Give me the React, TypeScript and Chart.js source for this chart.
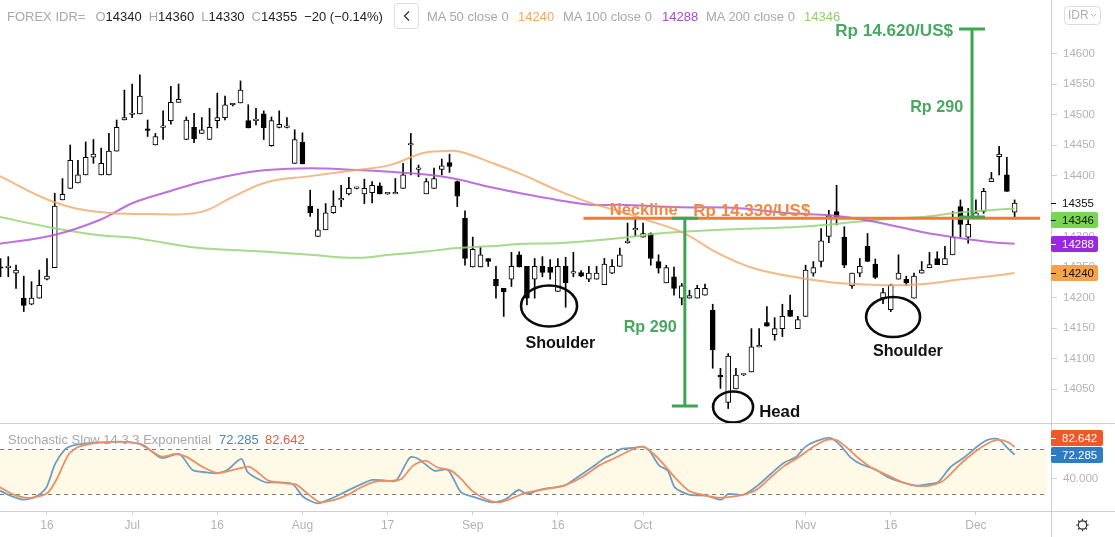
import React, { useEffect, useRef } from "react";
import { Chart, registerables } from "chart.js";

Chart.register(...registerables);

// ---------------- data ----------------
// trading-day index: 0 = 16 Jun, first candle is index -6 (8 Jun)
const firstDayIndex = -6;

const opens = [
  14250, 14249, 14240, 14199, 14189, 14199, 14230, 14249, 14360, 14379,
  14388, 14401, 14430, 14401, 14401, 14440, 14491, 14500, 14501, 14476,
  14450, 14479, 14490, 14520, 14459, 14479, 14469, 14459, 14490, 14495,
  14516, 14519, 14490, 14490, 14501, 14449, 14479, 14479, 14420, 14455,
  14350, 14300, 14311, 14339, 14360, 14370, 14379, 14370, 14372, 14383,
  14370, 14370, 14379, 14450, 14410, 14370, 14379, 14410, 14421, 14390,
  14330, 14250, 14250, 14264, 14230, 14215, 14230, 14270, 14251, 14230,
  14251, 14250, 14210, 14251, 14240, 14241, 14230, 14230, 14221, 14240,
  14251, 14290, 14311, 14299, 14305, 14259, 14224, 14234, 14199, 14199,
  14199, 14204, 14179, 14071, 14028, 14050, 14073, 14078, 14119, 14159,
  14139, 14149, 14179, 14149, 14169, 14240, 14259, 14300, 14341, 14299,
  14219, 14240, 14284, 14255, 14199, 14180, 14230, 14230, 14199, 14240,
  14249, 14264, 14254, 14270, 14349, 14299, 14331, 14341, 14390, 14431,
  14401, 14340,
];
const highs = [
  14264, 14267, 14253, 14235, 14226, 14245, 14264, 14371, 14395, 14450,
  14425, 14455, 14459, 14445, 14469, 14491, 14540, 14550, 14565, 14491,
  14469, 14506, 14546, 14550, 14496, 14502, 14495, 14510, 14535, 14530,
  14518, 14555, 14516, 14510, 14506, 14496, 14506, 14495, 14475, 14470,
  14376, 14345, 14354, 14375, 14384, 14397, 14381, 14394, 14390, 14388,
  14372, 14395, 14420, 14469, 14417, 14395, 14412, 14427, 14435, 14391,
  14342, 14299, 14283, 14264, 14251, 14215, 14274, 14275, 14251, 14264,
  14267, 14262, 14264, 14266, 14274, 14244, 14251, 14251, 14264, 14262,
  14281, 14322, 14330, 14322, 14306, 14270, 14253, 14250, 14223, 14212,
  14220, 14222, 14189, 14084, 14108, 14084, 14074, 14149, 14149, 14185,
  14167, 14189, 14204, 14169, 14253, 14259, 14313, 14343, 14384, 14316,
  14240, 14264, 14305, 14263, 14215, 14222, 14270, 14235, 14240, 14259,
  14274, 14275, 14284, 14341, 14360, 14346, 14360, 14379, 14405, 14448,
  14430, 14360,
];
const lows = [
  14234, 14234, 14215, 14177, 14188, 14199, 14229, 14249, 14360, 14379,
  14388, 14401, 14420, 14401, 14401, 14440, 14491, 14495, 14501, 14464,
  14450, 14459, 14484, 14520, 14459, 14454, 14469, 14459, 14478, 14491,
  14514, 14519, 14478, 14483, 14459, 14448, 14478, 14478, 14420, 14419,
  14333, 14300, 14311, 14338, 14349, 14368, 14378, 14354, 14355, 14370,
  14369, 14370, 14379, 14401, 14398, 14370, 14379, 14401, 14405, 14349,
  14253, 14250, 14250, 14251, 14199, 14169, 14218, 14250, 14188, 14199,
  14234, 14230, 14210, 14184, 14234, 14234, 14226, 14230, 14221, 14239,
  14251, 14289, 14300, 14299, 14253, 14240, 14224, 14204, 14188, 14199,
  14199, 14204, 14084, 14051, 14018, 14050, 14072, 14078, 14119, 14153,
  14130, 14136, 14169, 14149, 14169, 14235, 14250, 14290, 14319, 14249,
  14215, 14234, 14259, 14231, 14190, 14177, 14230, 14220, 14199, 14240,
  14249, 14254, 14254, 14270, 14299, 14289, 14330, 14338, 14390, 14401,
  14374, 14330,
];
const closes = [
  14248, 14250, 14245, 14187, 14199, 14220, 14235, 14350, 14369, 14425,
  14401, 14430, 14435, 14420, 14440, 14479, 14495, 14501, 14530, 14474,
  14464, 14480, 14520, 14525, 14491, 14460, 14475, 14479, 14495, 14516,
  14516, 14540, 14478, 14490, 14478, 14490, 14484, 14479, 14459, 14419,
  14339, 14311, 14339, 14350, 14360, 14379, 14379, 14379, 14384, 14370,
  14370, 14370, 14401, 14450, 14410, 14390, 14395, 14416, 14415, 14366,
  14264, 14279, 14270, 14259, 14219, 14209, 14251, 14250, 14199, 14251,
  14241, 14241, 14251, 14224, 14240, 14235, 14240, 14240, 14255, 14251,
  14270, 14290, 14311, 14305, 14264, 14248, 14249, 14215, 14219, 14203,
  14215, 14215, 14114, 14070, 14104, 14073, 14073, 14119, 14119, 14153,
  14149, 14169, 14169, 14164, 14245, 14249, 14293, 14334, 14330, 14253,
  14240, 14251, 14259, 14233, 14208, 14220, 14240, 14224, 14235, 14245,
  14254, 14254, 14264, 14299, 14320, 14320, 14339, 14374, 14395, 14435,
  14374, 14355,
];

// moving averages (day index, value)
const ma50Idx = [-6.1, 0.8, 6.8, 13.3, 19.8, 24, 28.4, 34, 40, 44.3, 48.6, 51.4, 53.4, 57.2, 61.5, 65.9, 70.2, 74, 77.5, 82.2, 86.6, 90.8, 95.1, 101.2, 104.7, 108.9, 113.2, 117.6, 121.8, 125];
const ma50Val = [14399, 14357, 14340, 14337, 14340, 14365, 14389, 14399, 14409, 14417, 14437, 14440, 14439, 14422, 14401, 14376, 14355, 14341, 14327, 14306, 14273, 14250, 14237, 14225, 14222, 14220, 14222, 14229, 14235, 14240];
const ma100Idx = [-6.1, 0.8, 6.8, 11.1, 15.5, 19.8, 24, 28.4, 34, 40, 44.3, 48.6, 53, 57.2, 61.5, 65.9, 70.2, 74, 81.8, 88.6, 96, 101.2, 104.7, 108.9, 113.2, 117.6, 121.8, 125];
const ma100Val = [14288, 14302, 14327, 14355, 14373, 14389, 14401, 14409, 14412, 14409, 14406, 14402, 14394, 14381, 14370, 14360, 14352, 14352, 14348, 14347, 14338, 14335, 14329, 14319, 14307, 14298, 14291, 14288];
const ma200Idx = [-6.1, 0.8, 6.8, 11.1, 15.5, 19.8, 24, 28.4, 34, 40, 44.3, 48.6, 53, 57.2, 61.5, 65.9, 70.2, 74.4, 80.1, 88.6, 97.3, 104.7, 108.9, 113.2, 117.6, 121.8, 125];
const ma200Val = [14332, 14314, 14302, 14298, 14289, 14281, 14278, 14275, 14270, 14265, 14270, 14275, 14281, 14284, 14288, 14289, 14293, 14298, 14306, 14312, 14316, 14324, 14329, 14332, 14339, 14343, 14346];

// stochastic slow (day index, value)
const stochKIdx = [-6.07, -4.74, -2.96, -1.18, -0.07, 1.05, 2.38, 3.27, 5.05, 7.27, 9.5, 11.7, 12.6, 14.8, 17.1, 18.8, 20.6, 21.95, 23.3, 25.1, 25.96, 28.2, 29.5, 31.7, 33.1, 34.9, 36.6, 38.4, 40.2, 42, 43.8, 45.1, 46.9, 48, 50, 51.8, 53.5, 55.3, 57.5, 59.3, 60.9, 62, 63.3, 64.2, 66.8, 68.2, 70.4, 72.2, 73.1, 74.2, 75.7, 76.9, 77.8, 79.1, 80.2, 81.1, 82.9, 85.1, 87.1, 88, 90, 91.8, 93.5, 95.3, 96.7, 98, 99.3, 101.1, 102.4, 103.8, 105.1, 106.9, 108.7, 110.5, 112.2, 114, 115.1, 116.7, 118.5, 120.3, 121.6, 122.9, 124, 125];
const stochKVal = [24.4, 17.8, 12.4, 17.8, 28.9, 60, 80, 84.4, 87.6, 88.9, 89.8, 87.6, 84.4, 68, 73.3, 52, 48.9, 47.6, 52, 66.7, 48.9, 35.6, 35.6, 33.3, 16.4, 7.6, 13.3, 22.2, 31.1, 38.7, 37.8, 37.8, 68.9, 66.7, 51.1, 52, 22.2, 15.6, 8.9, 13.3, 25.3, 20, 24.4, 26.7, 31.1, 40, 55.6, 68.9, 73.3, 80, 81.3, 83.1, 77.8, 57.8, 51.1, 28.9, 19.1, 17.8, 12.4, 20, 19.1, 31.1, 46.7, 62.2, 68.9, 83.1, 90.2, 94.7, 85.8, 68.9, 60, 53.3, 42.2, 35.6, 31.1, 33.3, 35.6, 55.6, 68.9, 84.4, 92.4, 93.3, 82.2, 72.285];
const stochDIdx = [-6.07, -4.25, -2.5, -0.7, 0.15, 1.27, 2.83, 4.16, 7.27, 11.7, 13.06, 14.8, 16.6, 17.96, 20.2, 21.95, 23.7, 25.96, 26.85, 28.6, 30.85, 32.2, 33.97, 35.3, 37.1, 38.9, 40.6, 42.4, 44.7, 45.8, 47.3, 48.9, 50.4, 52.2, 53.5, 54.9, 56.7, 58.4, 60.2, 61.6, 64.6, 66.8, 69.1, 71.3, 73.1, 74.4, 75.7, 77.1, 78.4, 79.8, 81.1, 82.9, 84.6, 86.4, 87.8, 90, 91.8, 93.5, 95.3, 97.1, 98.9, 100.7, 102, 103.3, 104.7, 106.4, 108.7, 110.5, 112.2, 114, 115.8, 118, 119.8, 121.6, 122.9, 124.2, 125];
const stochDVal = [28.9, 19.1, 14.7, 17.8, 22.2, 40, 73.3, 83.1, 88.9, 87.6, 80, 69.8, 73.3, 69.8, 55.6, 48, 51.1, 56.4, 52, 37.8, 34.2, 32.4, 17.8, 8.9, 12, 19.1, 28.9, 36.4, 37.8, 40, 57.8, 64.4, 55.6, 51.1, 40, 24.4, 13.3, 8.9, 14.7, 20.9, 26.7, 31.1, 42.2, 57.8, 66.7, 73.3, 80, 83.1, 73.3, 57.8, 42.2, 24.4, 19.1, 15.6, 15.6, 19.1, 26.7, 42.2, 57.8, 68.9, 82.2, 92, 92, 82.2, 68.9, 55.6, 44.4, 35.6, 31.1, 31.1, 37.8, 60, 75.6, 87.6, 92, 88.9, 82.642];

// axes
const timeTickIdx = [0, 11, 22, 33, 44, 55, 66, 77, 98, 109, 120];
const timeTickLabels = ["16", "Jul", "16", "Aug", "17", "Sep", "16", "Oct", "Nov", "16", "Dec"];
const priceTickValues = [14050, 14100, 14150, 14200, 14250, 14300, 14400, 14450, 14500, 14550, 14600];
const stochTickValues = [40];

// legend values
const ma50Last = 14240;
const ma100Last = 14288;
const ma200Last = 14346;
const stochKLast = 72.285;
const stochDLast = 82.642;
const changeText = "\u221220 (\u22120.14%)";

// annotation values
const necklinePrice = 14330;
const necklineFromIdx = 69.3;
const necklineToIdx = 128.3;
const leftMove = { idx: 82.4, from: 14330, to: 14022 };
const rightMove = { idx: 119.5, from: 14332, to: 14640 };

// ---------------- styling / layout ----------------
const FONT = '"Liberation Sans", Arial, Helvetica, sans-serif';
const W = 1115;
const MAIN_H = 423;
const STOCH_H = 114;
const STOCH_AREA_BOTTOM = 88;
const AXIS_W = 64;
const X_MIN = -6.07;
const X_MAX = 129.7;
const Y_MIN = 13994.3;
const Y_MAX = 14687.7;
const S_MIN = -2.7;
const S_MAX = 113.3;

const GRAY = "#a8a8a8";
const AXIS_TEXT = "#b3b3b3";
const LINE_GRAY = "#cfcfcf";
const DARK = "#222";
const MA50_COLOR = "rgba(243,168,104,0.8)";
const MA100_COLOR = "rgba(176,88,214,0.85)";
const MA200_COLOR = "rgba(150,212,120,0.85)";
const NECK_COLOR = "#ed7d31";
const NECK_TEXT = "#ef8a45";
const BR_GREEN = "#3da653";
const TXT_GREEN = "#48a862";
const STOCH_K = "#6f9cc0";
const STOCH_D = "#ec9062";

const candleIdx = opens.map((_, i) => i + firstDayIndex);
const last = opens.length - 1;

function roundRect(ctx: CanvasRenderingContext2D, x: number, y: number, w: number, h: number, r: number) {
  ctx.beginPath();
  ctx.moveTo(x + r, y);
  ctx.lineTo(x + w - r, y);
  ctx.quadraticCurveTo(x + w, y, x + w, y + r);
  ctx.lineTo(x + w, y + h - r);
  ctx.quadraticCurveTo(x + w, y + h, x + w - r, y + h);
  ctx.lineTo(x + r, y + h);
  ctx.quadraticCurveTo(x, y + h, x, y + h - r);
  ctx.lineTo(x, y + r);
  ctx.quadraticCurveTo(x, y, x + r, y);
  ctx.closePath();
}

function fitText(ctx: CanvasRenderingContext2D, text: string, x: number, y: number, width: number, color: string, align: CanvasTextAlign) {
  ctx.font = `bold 20px ${FONT}`;
  const w = ctx.measureText(text).width;
  const size = (20 * width) / w;
  ctx.font = `bold ${size}px ${FONT}`;
  ctx.fillStyle = color;
  ctx.textAlign = align;
  ctx.textBaseline = "middle";
  ctx.fillText(text, x, y);
}

function badge(ctx: CanvasRenderingContext2D, cy: number, text: string, bg: string, fg: string, w: number) {
  const x0 = W - AXIS_W;
  ctx.fillStyle = bg;
  roundRect(ctx, x0, Math.round(cy) - 8, w, 16, 2);
  ctx.fill();
  ctx.strokeStyle = fg;
  ctx.lineWidth = 1;
  ctx.beginPath();
  ctx.moveTo(x0, Math.round(cy) + 0.5);
  ctx.lineTo(x0 + 5, Math.round(cy) + 0.5);
  ctx.stroke();
  ctx.fillStyle = fg;
  ctx.font = `11.5px ${FONT}`;
  ctx.textAlign = "left";
  ctx.textBaseline = "middle";
  ctx.fillText(text, x0 + 11, Math.round(cy) + 0.5);
}

const annotationTexts = [
  { text: "Rp 14.620/US$", idx: 117.05, price: 14637, width: 118, color: TXT_GREEN, align: "right" as CanvasTextAlign },
  { text: "Rp 290", idx: 118.35, price: 14511, width: 53, color: TXT_GREEN, align: "right" as CanvasTextAlign },
  { text: "Neckline", idx: 72.7, price: 14342, width: 68, color: NECK_TEXT, align: "left" as CanvasTextAlign },
  { text: "Rp 14.330/US$", idx: 83.5, price: 14342, width: 117, color: NECK_TEXT, align: "left" as CanvasTextAlign },
  { text: "Rp 290", idx: 74.5, price: 14150, width: 53, color: TXT_GREEN, align: "left" as CanvasTextAlign },
  { text: "Shoulder", idx: 61.8, price: 14124, width: 70, color: "#111", align: "left" as CanvasTextAlign },
  { text: "Head", idx: 92, price: 14012, width: 41, color: "#111", align: "left" as CanvasTextAlign },
  { text: "Shoulder", idx: 106.7, price: 14112, width: 70, color: "#111", align: "left" as CanvasTextAlign },
];
const ellipses = [
  { idx: 64.86, price: 14186, rx: 28, ry: 20.5 },
  { idx: 88.63, price: 14020.5, rx: 20, ry: 15.5 },
  { idx: 109.3, price: 14168, rx: 27, ry: 20 },
];

const mainDecor = {
  id: "mainDecor",
  afterDatasetsDraw(chart: any) {
    const ctx: CanvasRenderingContext2D = chart.ctx;
    const xs = chart.scales.x;
    const ys = chart.scales.y;
    const px = (v: number) => xs.getPixelForValue(v);
    const py = (v: number) => ys.getPixelForValue(v);
    ctx.save();
    ctx.lineCap = "butt";
    ctx.strokeStyle = NECK_COLOR;
    ctx.lineWidth = 3;
    ctx.beginPath();
    ctx.moveTo(px(necklineFromIdx), py(necklinePrice));
    ctx.lineTo(px(necklineToIdx), py(necklinePrice));
    ctx.stroke();
    ctx.strokeStyle = BR_GREEN;
    for (const b of [leftMove, rightMove]) {
      const bx = px(b.idx);
      const y1 = py(b.from);
      const y2 = py(b.to);
      ctx.beginPath();
      ctx.moveTo(bx, y1);
      ctx.lineTo(bx, y2);
      ctx.moveTo(bx - 13, y1);
      ctx.lineTo(bx + 13, y1);
      ctx.moveTo(bx - 13, y2);
      ctx.lineTo(bx + 13, y2);
      ctx.stroke();
    }
    ctx.strokeStyle = "#0a0a0a";
    ctx.lineWidth = 2.6;
    for (const e of ellipses) {
      ctx.beginPath();
      ctx.ellipse(px(e.idx), py(e.price), e.rx, e.ry, 0, 0, Math.PI * 2);
      ctx.stroke();
    }
    for (const t of annotationTexts) {
      fitText(ctx, t.text, px(t.idx), py(t.price), t.width, t.color, t.align);
    }
    ctx.restore();
  },
  afterDraw(chart: any) {
    const ctx: CanvasRenderingContext2D = chart.ctx;
    const ys = chart.scales.y;
    const py = (v: number) => ys.getPixelForValue(v);
    const x0 = W - AXIS_W;
    ctx.save();
    ctx.strokeStyle = LINE_GRAY;
    ctx.lineWidth = 1;
    ctx.beginPath();
    ctx.moveTo(x0 + 0.5, 0);
    ctx.lineTo(x0 + 0.5, MAIN_H);
    ctx.stroke();
    const yc = Math.round(py(closes[last]));
    ctx.strokeStyle = "#111";
    ctx.beginPath();
    ctx.moveTo(x0, yc + 0.5);
    ctx.lineTo(x0 + 5, yc + 0.5);
    ctx.stroke();
    ctx.fillStyle = "#111";
    ctx.font = `11.5px ${FONT}`;
    ctx.textAlign = "left";
    ctx.textBaseline = "middle";
    ctx.fillText(String(closes[last]), x0 + 11, yc + 0.5);
    const yMa200 = Math.max(py(ma200Last), yc + 17);
    badge(ctx, yMa200, String(ma200Last), "#78d650", "#111", 47);
    badge(ctx, py(ma100Last), String(ma100Last), "#9d27e0", "#fff", 47);
    badge(ctx, py(ma50Last), String(ma50Last), "#f6a24a", "#111", 47);
    ctx.strokeStyle = "#dcdcdc";
    roundRect(ctx, 1064.5, 6.5, 36, 18, 4);
    ctx.stroke();
    ctx.fillStyle = "#b0b0b0";
    ctx.font = `12px ${FONT}`;
    ctx.textAlign = "left";
    ctx.fillText("IDR", 1068, 16);
    ctx.strokeStyle = "#b0b0b0";
    ctx.beginPath();
    ctx.moveTo(1091, 14);
    ctx.lineTo(1093.5, 16.5);
    ctx.lineTo(1096, 14);
    ctx.stroke();
    ctx.restore();
  },
};

const stochDecor = {
  id: "stochDecor",
  beforeDatasetsDraw(chart: any) {
    const ctx: CanvasRenderingContext2D = chart.ctx;
    const { left, right } = chart.chartArea;
    const ys = chart.scales.y;
    const y80 = Math.round(ys.getPixelForValue(80)) + 0.5;
    const y20 = Math.round(ys.getPixelForValue(20)) + 0.5;
    ctx.save();
    ctx.fillStyle = "#fffae8";
    ctx.fillRect(left, y80, right - left - 4, y20 - y80);
    ctx.strokeStyle = "#7a7a7a";
    ctx.lineWidth = 1;
    ctx.setLineDash([4, 4]);
    ctx.beginPath();
    ctx.moveTo(left, y80);
    ctx.lineTo(right - 4, y80);
    ctx.moveTo(left, y20);
    ctx.lineTo(right - 4, y20);
    ctx.stroke();
    ctx.restore();
  },
  afterDraw(chart: any) {
    const ctx: CanvasRenderingContext2D = chart.ctx;
    const ys = chart.scales.y;
    const x0 = W - AXIS_W;
    const bottom = chart.chartArea.bottom;
    ctx.save();
    ctx.strokeStyle = LINE_GRAY;
    ctx.lineWidth = 1;
    ctx.beginPath();
    ctx.moveTo(0, 0.5);
    ctx.lineTo(W, 0.5);
    ctx.moveTo(0, bottom + 0.5);
    ctx.lineTo(W, bottom + 0.5);
    ctx.moveTo(x0 + 0.5, 0);
    ctx.lineTo(x0 + 0.5, STOCH_H);
    ctx.stroke();
    const yK = Math.round(ys.getPixelForValue(stochKLast));
    const yD = Math.min(Math.round(ys.getPixelForValue(stochDLast)), yK - 17);
    badge(ctx, yK, stochKLast.toFixed(3), "#2f7cc6", "#fff", 52);
    badge(ctx, yD, stochDLast.toFixed(3), "#f0582a", "#fff", 52);
    const gx = 1082.5;
    const gy = bottom + 14;
    ctx.strokeStyle = "#333";
    ctx.lineWidth = 1.2;
    ctx.beginPath();
    ctx.arc(gx, gy, 4.2, 0, Math.PI * 2);
    ctx.stroke();
    ctx.beginPath();
    for (let i = 0; i < 8; i++) {
      const a = (i * Math.PI) / 4;
      ctx.moveTo(gx + Math.cos(a) * 4.2, gy + Math.sin(a) * 4.2);
      ctx.lineTo(gx + Math.cos(a) * 6.3, gy + Math.sin(a) * 6.3);
    }
    ctx.stroke();
    ctx.restore();
  },
};

function lineData(xs: number[], vs: number[]) {
  return xs.map((x, i) => ({ x, y: vs[i] }));
}

function fixVertical(s: any) {
  s.width = AXIS_W;
  s.paddingTop = 0;
  s.paddingBottom = 0;
}

export default function App() {
  const mainRef = useRef<HTMLCanvasElement>(null);
  const stochRef = useRef<HTMLCanvasElement>(null);

  useEffect(() => {
    Chart.defaults.font.family = FONT;
    const wicks = candleIdx.map((k, i) => ({ x: k, y: [lows[i], highs[i]] }));
    const bodies = candleIdx.map((k, i) => ({ x: k, y: [Math.min(opens[i], closes[i]), Math.max(opens[i], closes[i])] }));
    const bodyColors = candleIdx.map((_, i) => (closes[i] >= opens[i] ? "#ffffff" : "#000000"));

    const main = new Chart(mainRef.current as HTMLCanvasElement, {
      type: "bar",
      data: {
        datasets: [
          { type: "line", data: lineData(ma50Idx, ma50Val), borderColor: MA50_COLOR, borderWidth: 2, pointRadius: 0, pointHoverRadius: 0, tension: 0.4, order: 0 } as any,
          { type: "line", data: lineData(ma100Idx, ma100Val), borderColor: MA100_COLOR, borderWidth: 2, pointRadius: 0, pointHoverRadius: 0, tension: 0.4, order: 0 } as any,
          { type: "line", data: lineData(ma200Idx, ma200Val), borderColor: MA200_COLOR, borderWidth: 2, pointRadius: 0, pointHoverRadius: 0, tension: 0.4, order: 0 } as any,
          { type: "bar", data: bodies, backgroundColor: bodyColors, borderColor: "#000", borderWidth: 1, borderSkipped: false, barThickness: 5, minBarLength: 1.5, grouped: false, order: 1 } as any,
          { type: "bar", data: wicks, backgroundColor: "#000", borderWidth: 0, barThickness: 1, grouped: false, order: 2 } as any,
        ],
      },
      options: {
        responsive: false,
        maintainAspectRatio: false,
        animation: false,
        devicePixelRatio: 1,
        events: [],
        layout: { padding: 0, autoPadding: false },
        plugins: { legend: { display: false }, tooltip: { enabled: false } },
        scales: {
          x: { type: "linear", min: X_MIN, max: X_MAX, offset: false, display: false },
          y: {
            type: "linear",
            position: "right",
            min: Y_MIN,
            max: Y_MAX,
            afterFit: fixVertical,
            afterBuildTicks: (s: any) => { s.ticks = priceTickValues.map((v) => ({ value: v })); },
            ticks: { color: AXIS_TEXT, font: { size: 11.5, family: FONT }, padding: 6, callback: (v: any) => String(v) },
            grid: { drawOnChartArea: false, drawTicks: true, tickLength: 6, color: LINE_GRAY },
            border: { display: false },
          },
        },
      } as any,
      plugins: [mainDecor],
    });

    const stoch = new Chart(stochRef.current as HTMLCanvasElement, {
      type: "line",
      data: {
        datasets: [
          { data: lineData(stochDIdx, stochDVal), borderColor: STOCH_D, borderWidth: 1.8, pointRadius: 0, pointHoverRadius: 0, tension: 0.25 },
          { data: lineData(stochKIdx, stochKVal), borderColor: STOCH_K, borderWidth: 1.8, pointRadius: 0, pointHoverRadius: 0, tension: 0.25 },
        ],
      },
      options: {
        responsive: false,
        maintainAspectRatio: false,
        animation: false,
        devicePixelRatio: 1,
        events: [],
        layout: { padding: { top: 1, left: 0, right: 0, bottom: 0 }, autoPadding: false },
        plugins: { legend: { display: false }, tooltip: { enabled: false } },
        scales: {
          x: {
            type: "linear",
            position: "bottom",
            min: X_MIN,
            max: X_MAX,
            offset: false,
            afterFit: (s: any) => { s.height = STOCH_H - STOCH_AREA_BOTTOM; s.paddingLeft = 0; s.paddingRight = 0; },
            afterBuildTicks: (s: any) => { s.ticks = timeTickIdx.map((v) => ({ value: v })); },
            ticks: {
              color: AXIS_TEXT,
              font: { size: 12, family: FONT },
              padding: 3,
              maxRotation: 0,
              autoSkip: false,
              callback: (_v: any, i: number) => timeTickLabels[i],
            },
            grid: { drawOnChartArea: false, drawTicks: true, tickLength: 4, color: LINE_GRAY },
            border: { display: false },
          },
          y: {
            type: "linear",
            position: "right",
            min: S_MIN,
            max: S_MAX,
            afterFit: fixVertical,
            afterBuildTicks: (s: any) => { s.ticks = stochTickValues.map((v) => ({ value: v })); },
            ticks: { color: AXIS_TEXT, font: { size: 11.5, family: FONT }, padding: 6, callback: (v: any) => Number(v).toFixed(3) },
            grid: { drawOnChartArea: false, drawTicks: true, tickLength: 6, color: LINE_GRAY },
            border: { display: false },
          },
        },
      } as any,
      plugins: [stochDecor],
    });

    return () => {
      main.destroy();
      stoch.destroy();
    };
  }, []);

  const ohlc: [string, number][] = [
    ["O", opens[last]],
    ["H", highs[last]],
    ["L", lows[last]],
    ["C", closes[last]],
  ];
  const maLegend: [string, number, number, string][] = [
    ["MA 50 close 0", 427, 518, "#f3a655"],
    ["MA 100 close 0", 563, 662, "#a84bcf"],
    ["MA 200 close 0", 706, 804, "#8fcf6c"],
  ];
  const maValues = [ma50Last, ma100Last, ma200Last];
  const txt: React.CSSProperties = { position: "absolute", top: 9, fontSize: 13, lineHeight: "16px", whiteSpace: "nowrap" };

  return (
    <div style={{ position: "absolute", left: 0, top: 0, width: W, height: MAIN_H + STOCH_H, background: "#fff", overflow: "hidden", fontFamily: FONT }}>
      <canvas ref={mainRef} width={W} height={MAIN_H} style={{ position: "absolute", left: 0, top: 0 }} />
      <canvas ref={stochRef} width={W} height={STOCH_H} style={{ position: "absolute", left: 0, top: MAIN_H }} />
      <div style={{ ...txt, left: 7, display: "flex" }}>
        <span style={{ color: GRAY }}>FOREX IDR=</span>
        {ohlc.map(([l, v], i) => (
          <span key={l} style={{ marginLeft: i === 0 ? 10 : 7 }}>
            <span style={{ color: GRAY }}>{l}</span>
            <span style={{ color: DARK }}>{v}</span>
          </span>
        ))}
        <span style={{ marginLeft: 7, color: DARK }}>{changeText}</span>
      </div>
      <div style={{ position: "absolute", left: 394, top: 3, width: 25, height: 26, boxSizing: "border-box", border: "1px solid #e0e0e0", borderRadius: 3, display: "flex", alignItems: "center", justifyContent: "center" }}>
        <svg width="8" height="12" viewBox="0 0 8 12">
          <polyline points="6,1.5 1.5,6 6,10.5" fill="none" stroke="#333" strokeWidth="1.3" />
        </svg>
      </div>
      {maLegend.map(([label, lx, vx, color], i) => (
        <React.Fragment key={label}>
          <span style={{ ...txt, left: lx, color: GRAY }}>{label}</span>
          <span style={{ ...txt, left: vx, color }}>{maValues[i]}</span>
        </React.Fragment>
      ))}
      <span style={{ ...txt, top: 432, left: 8, color: GRAY }}>Stochastic Slow 14 3 3 Exponential</span>
      <span style={{ ...txt, top: 432, left: 219, color: "#4a86b8" }}>{stochKLast.toFixed(3)}</span>
      <span style={{ ...txt, top: 432, left: 265, color: "#e0603a" }}>{stochDLast.toFixed(3)}</span>
    </div>
  );
}
